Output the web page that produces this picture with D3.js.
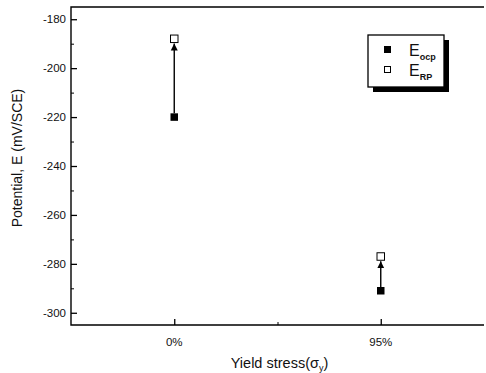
<!DOCTYPE html>
<html>
<head>
<meta charset="utf-8">
<script src="https://cdn.jsdelivr.net/npm/d3@7"></script>
<style>
  body { margin: 0; background: #fff; }
  text { font-family: "Liberation Sans", Arial, sans-serif; fill: #111; }
</style>
</head>
<body>
<div id="container"></div>
<script>
// data
const categories = ["0%", "95%"]
const eOcp = [-220, -291]
const eRp = [-188, -277]
const yTicks = [-180, -200, -220, -240, -260, -280, -300]

const W = 486, H = 373
const margin = { top: 7, right: 2, bottom: 48, left: 71 }

const svg = d3.select("#container").append("svg")
    .attr("width", W).attr("height", H)

const xScale = d3.scaleLinear().domain([0.5, 2.5])
    .range([margin.left, W - margin.right])
const yScale = d3.scaleLinear().domain([-305, -175])
    .range([H - margin.bottom, margin.top])

const x0 = margin.left, x1 = W - margin.right
const y0 = H - margin.bottom, y1 = margin.top

// frame (no right edge, as in the scan)
svg.append("path")
    .attr("d", `M${x1},${y1}H${x0}V${y0}H${x1}`)
    .attr("fill", "none").attr("stroke", "#000").attr("stroke-width", 1.4)

// y axis ticks (inward)
const yAxis = d3.axisRight(yScale).tickValues(yTicks).tickSize(6).tickFormat("")
svg.append("g").attr("transform", `translate(${x0},0)`).call(yAxis)
    .call(g => g.select(".domain").remove())
    .call(g => g.selectAll("line").attr("stroke-width", 1.3))
const yMinor = d3.axisRight(yScale).tickValues(d3.range(-190, -300, -20)).tickSize(3).tickFormat("")
svg.append("g").attr("transform", `translate(${x0},0)`).call(yMinor)
    .call(g => g.select(".domain").remove())

svg.append("g").selectAll("text").data(yTicks).enter().append("text")
    .attr("x", x0 - 5).attr("y", d => yScale(d) + 4)
    .attr("text-anchor", "end").style("font-size", "11.5px")
    .text(d => d)

// x axis ticks (inward)
const xAxis = d3.axisTop(xScale).tickValues([1, 2]).tickSize(6).tickFormat("")
svg.append("g").attr("transform", `translate(0,${y0})`).call(xAxis)
    .call(g => g.select(".domain").remove())
    .call(g => g.selectAll("line").attr("stroke-width", 1.3))
const xMinor = d3.axisTop(xScale).tickValues([1.5]).tickSize(3).tickFormat("")
svg.append("g").attr("transform", `translate(0,${y0})`).call(xMinor)
    .call(g => g.select(".domain").remove())

svg.append("g").selectAll("text").data(categories).enter().append("text")
    .attr("x", (d, i) => xScale(i + 1)).attr("y", y0 + 21)
    .attr("text-anchor", "middle").style("font-size", "11.5px")
    .text(d => d)

// axis titles
svg.append("text")
    .attr("transform", `translate(22,${(y0 + y1) / 2 - 8}) rotate(-90)`)
    .attr("text-anchor", "middle").style("font-size", "14px")
    .text("Potential, E (mV/SCE)")

const xt = svg.append("text")
    .attr("x", (x0 + x1) / 2 + 2).attr("y", H - 5)
    .attr("text-anchor", "middle").style("font-size", "14.5px")
xt.append("tspan").text("Yield stress(σ")
xt.append("tspan").attr("dy", 3).style("font-size", "9px").text("y")
xt.append("tspan").attr("dy", -3).text(")")

// arrows from E_ocp up to E_RP
svg.append("defs").append("marker")
    .attr("id", "arr").attr("viewBox", "0 0 10 10")
    .attr("refX", 10).attr("refY", 5)
    .attr("markerWidth", 5).attr("markerHeight", 7)
    .attr("orient", "auto")
    .append("path").attr("d", "M0,0L10,5L0,10Z").attr("fill", "#000")

const ms = 7.5
categories.forEach((c, i) => {
    const cx = xScale(i + 1)
    svg.append("line")
        .attr("x1", cx).attr("x2", cx)
        .attr("y1", yScale(eOcp[i]) - ms / 2)
        .attr("y2", yScale(eRp[i]) + ms / 2 + 1)
        .attr("stroke", "#000").attr("stroke-width", 1.4)
        .attr("marker-end", "url(#arr)")
})

svg.append("g").selectAll("rect").data(eOcp).enter().append("rect")
    .attr("x", (d, i) => xScale(i + 1) - ms / 2)
    .attr("y", d => yScale(d) - ms / 2)
    .attr("width", ms).attr("height", ms)
    .attr("fill", "#000")

svg.append("g").selectAll("rect").data(eRp).enter().append("rect")
    .attr("x", (d, i) => xScale(i + 1) - ms / 2)
    .attr("y", d => yScale(d) - ms / 2)
    .attr("width", ms).attr("height", ms)
    .attr("fill", "#fff").attr("stroke", "#000").attr("stroke-width", 1)

// legend
const lx = 368, ly = 35, lw = 76, lh = 52
svg.append("rect").attr("x", lx + 5).attr("y", ly + 5)
    .attr("width", lw).attr("height", lh).attr("fill", "#000")
svg.append("rect").attr("x", lx).attr("y", ly)
    .attr("width", lw).attr("height", lh)
    .attr("fill", "#fff").attr("stroke", "#000").attr("stroke-width", 1.3)

svg.append("rect").attr("x", lx + 16).attr("y", ly + 11)
    .attr("width", 7).attr("height", 7).attr("fill", "#000")
svg.append("rect").attr("x", lx + 16.5).attr("y", ly + 31.5)
    .attr("width", 6).attr("height", 6)
    .attr("fill", "#fff").attr("stroke", "#000").attr("stroke-width", 1)

const legendLabels = [["E", "ocp"], ["E", "RP"]]
legendLabels.forEach((l, i) => {
    const t = svg.append("text")
        .attr("x", lx + 41).attr("y", ly + 21 + i * 20)
        .style("font-size", "16px")
    t.append("tspan").text(l[0])
    t.append("tspan").attr("dy", 4).style("font-size", "9px")
        .style("font-weight", "bold").text(l[1])
})
</script>
</body>
</html>
